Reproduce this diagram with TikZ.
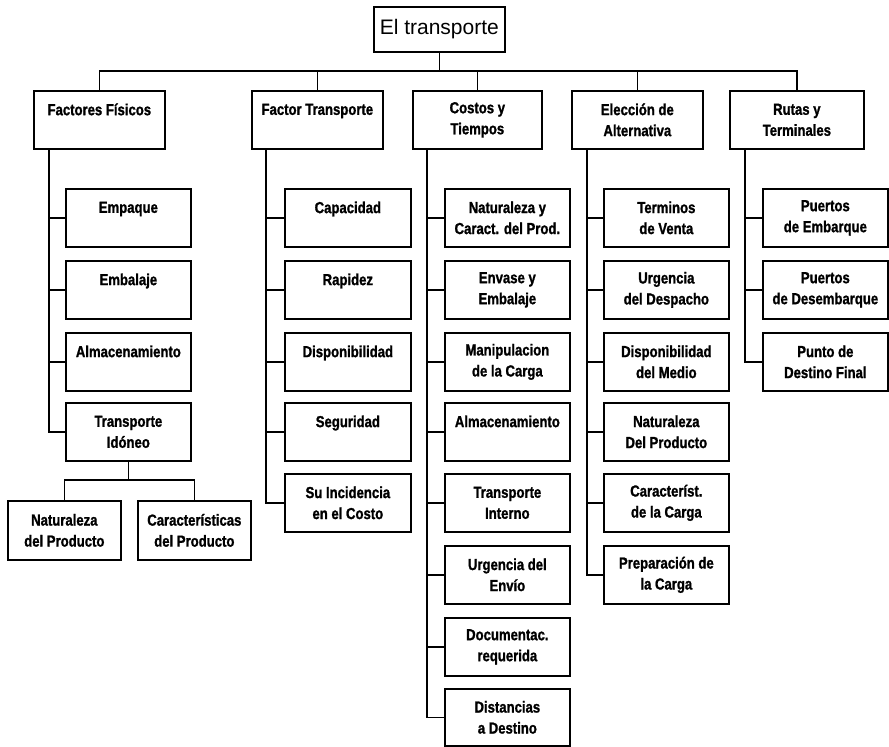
\documentclass[tikz,border=0pt]{standalone}
\usepackage{fontspec}
\setmainfont{Liberation Sans}
\newfontfamily\boxfont[FakeStretch=0.82,FakeBold=1.2]{Liberation Sans}
\begin{document}
\begin{tikzpicture}[x=1pt,y=-1pt,
  frame/.style={draw, line width=1.7pt, anchor=north west, inner sep=0pt, align=center,
    font=\boxfont\bfseries\fontsize{16}{21}\selectfont},
  headbox/.style={frame, minimum width=131pt, minimum height=58pt},
  itembox/.style={frame, minimum width=125pt, minimum height=58pt},
  leafbox/.style={frame, minimum width=113pt, minimum height=59pt},
  link/.style={line width=1.7pt},
]
\useasboundingbox (0,0) rectangle (889,747);

% root
\node[frame, minimum width=131pt, minimum height=45pt,
      font=\fontsize{21}{24}\selectfont] (root) at (373,6) {El transporte};

% first level
\node[headbox] (h1) at (33,90)  {Factores Físicos\\~};
\node[headbox] (h2) at (251,90) {Factor Transporte\\~};
\node[headbox, minimum width=129pt] (h3) at (412,90) {Costos y\\Tiempos};
\node[headbox] (h4) at (571,90) {Elección de\\Alternativa};
\node[headbox, minimum width=134pt] (h5) at (729,90) {Rutas y\\Terminales};

% bus from root to first level
\coordinate (bus) at (438,71);
\foreach \h in {h1,h2,h3,h4,h5}
  \draw[link] (root.south) |- (bus -| \h.north) -- (\h.north);

% column 1
\node[itembox] (c11) at (65,188) {Empaque\\~};
\node[itembox] (c12) at (65,260) {Embalaje\\~};
\node[itembox] (c13) at (65,332) {Almacenamiento\\~};
\node[itembox] (c14) at (65,402) {Transporte\\Idóneo};

% column 2
\node[itembox, minimum width=126pt] (c21) at (284,188) {Capacidad\\~};
\node[itembox, minimum width=126pt] (c22) at (284,260) {Rapidez\\~};
\node[itembox, minimum width=126pt] (c23) at (284,332) {Disponibilidad\\~};
\node[itembox, minimum width=126pt] (c24) at (284,402) {Seguridad\\~};
\node[itembox, minimum width=126pt] (c25) at (284,473) {Su Incidencia\\en el Costo};

% column 3
\node[itembox] (c31) at (444,188) {Naturaleza y\\Caract. del Prod.};
\node[itembox] (c32) at (444,260) {Envase y\\Embalaje};
\node[itembox] (c33) at (444,332) {Manipulacion\\de la Carga};
\node[itembox] (c34) at (444,402) {Almacenamiento\\~};
\node[itembox] (c35) at (444,473) {Transporte\\Interno};
\node[itembox] (c36) at (444,545) {Urgencia del\\Envío};
\node[itembox] (c37) at (444,617) {Documentac.\\requerida};
\node[itembox, minimum height=57pt] (c38) at (444,688) {Distancias\\a Destino};

% column 4
\node[itembox] (c41) at (603,188) {Terminos\\de Venta};
\node[itembox] (c42) at (603,260) {Urgencia\\del Despacho};
\node[itembox] (c43) at (603,332) {Disponibilidad\\del Medio};
\node[itembox] (c44) at (603,402) {Naturaleza\\Del Producto};
\node[itembox] (c45) at (603,473) {Característ.\\de la Carga};
\node[itembox] (c46) at (603,545) {Preparación de\\la Carga};

% column 5
\node[itembox, minimum width=125pt] (c51) at (762,188) {Puertos\\de Embarque};
\node[itembox, minimum width=125pt] (c52) at (762,260) {Puertos\\de Desembarque};
\node[itembox, minimum width=125pt] (c53) at (762,332) {Punto de\\Destino Final};

% spines from each heading to its items
\foreach \c in {c11,c12,c13,c14}
  \draw[link] ([xshift=16pt]h1.south west) |- (\c.west);
\foreach \c in {c21,c22,c23,c24,c25}
  \draw[link] ([xshift=15pt]h2.south west) |- (\c.west);
\foreach \c in {c31,c32,c33,c34,c35,c36,c37,c38}
  \draw[link] ([xshift=15pt]h3.south west) |- (\c.west);
\foreach \c in {c41,c42,c43,c44,c45,c46}
  \draw[link] ([xshift=16pt]h4.south west) |- (\c.west);
\foreach \c in {c51,c52,c53}
  \draw[link] ([xshift=16pt]h5.south west) |- (\c.west);

% sub-items of Transporte Idóneo
\node[leafbox] (l1) at (7,500)   {Naturaleza\\del Producto};
\node[leafbox] (l2) at (137,500) {Características\\del Producto};
\coordinate (tb) at (127,480);
\foreach \l in {l1,l2}
  \draw[link] (c14.south) |- (tb -| \l.north) -- (\l.north);
\end{tikzpicture}
\end{document}
